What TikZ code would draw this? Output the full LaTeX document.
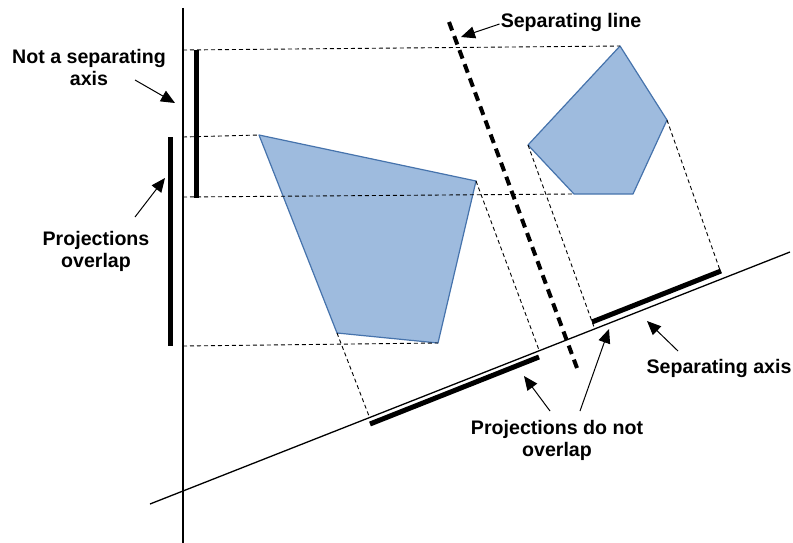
\documentclass[tikz,border=0pt]{standalone}
\usepackage{fontspec}
\setmainfont{Liberation Sans}
\usetikzlibrary{arrows.meta}
\definecolor{polyfill}{RGB}{158,187,222}
\definecolor{polyedge}{RGB}{70,115,172}
\tikzset{
  lbl/.style={font=\bfseries\fontsize{19.6}{22}\selectfont, align=center, inner sep=0pt},
  axisline/.style={line width=1.3pt},
  bar/.style={line width=5pt},
  proj/.style={line width=0.9pt, dash pattern=on 4pt off 3pt},
  poly/.style={fill=polyfill, draw=polyedge, line width=1.2pt, line join=round},
  callout/.style={line width=1pt, -{Triangle[length=14pt,width=12pt]}},
  sepline/.style={line width=4pt, dash pattern=on 9pt off 6pt}
}
\begin{document}
\begin{tikzpicture}[x=1pt,y=-1pt]
\useasboundingbox (0,0) rectangle (793,543);
% axes
\coordinate (vtop) at (183,8);
\coordinate (vbot) at (183,543);
\coordinate (aL) at (150,504);
\coordinate (aR) at (790,252);
\draw[axisline] (vtop) -- (vbot);
\draw[axisline] (aL) -- (aR);
% polygons
\coordinate (q1) at (259,135);
\coordinate (q2) at (476,181);
\coordinate (q3) at (438,343);
\coordinate (q4) at (337,333);
\coordinate (p1) at (620,46);
\coordinate (p2) at (667,120);
\coordinate (p3) at (633,194);
\coordinate (p4) at (574,194);
\coordinate (p5) at (528,145);
\draw[poly] (q1) -- (q2) -- (q3) -- (q4) -- cycle;
\draw[poly] (p1) -- (p2) -- (p3) -- (p4) -- (p5) -- cycle;
% projections onto vertical axis
\coordinate (h1) at (183,50);
\coordinate (h2) at (183,137);
\coordinate (h3) at (183,197);
\coordinate (h4) at (183,346);
\draw[proj] (h1) -- (p1);
\draw[proj] (h2) -- (q1);
\draw[proj] (h3) -- (p4);
\draw[proj] (h4) -- (q3);
% projections onto slanted axis
\coordinate (s1) at (369,416);
\coordinate (s2) at (539,350);
\coordinate (s3) at (594,327);
\coordinate (s4) at (721,273);
\draw[proj] (q4) -- (s1);
\draw[proj] (q2) -- (s2);
\draw[proj] (p5) -- (s3);
\draw[proj] (p2) -- (s4);
% bars
\coordinate (b1a) at (170,137);
\coordinate (b1b) at (170,346);
\coordinate (b2a) at (196,50);
\coordinate (b2b) at (196,198);
\draw[bar] (b1a) -- (b1b);
\draw[bar] (b2a) -- (b2b);
\coordinate (b3a) at (370,424);
\coordinate (b3b) at (539,357);
\coordinate (b4a) at (592,322);
\coordinate (b4b) at (721,271);
\draw[bar] (b3a) -- (b3b);
\draw[bar] (b4a) -- (b4b);
% separating line
\coordinate (slA) at (449,22);
\coordinate (slB) at (577,368);
\draw[sepline] (slA) -- (slB);
% labels
\node[lbl] (tNot) at (89,67) {Not a separating\\axis};
\node[lbl] (tOver) at (96,251) {Projections\\overlap};
\node[lbl] (tSepL) at (571,22) {Separating line};
\node[lbl] (tSepA) at (719,368) {Separating axis};
\node[lbl] (tDoNot) at (557,440) {Projections do not\\overlap};
% callout arrows
\coordinate (cNot) at (175,103);
\coordinate (cOver) at (165,178);
\coordinate (cSepL) at (461,37);
\coordinate (cSepA) at (647,321);
\coordinate (cDo1) at (524,376);
\coordinate (cDo2) at (609,329);
\draw[callout] (135,80) -- (cNot);
\draw[callout] (135,217) -- (cOver);
\draw[callout] (tSepL.west) ++(-1,2) -- (cSepL);
\draw[callout] (678,351) -- (cSepA);
\draw[callout] (550,411) -- (cDo1);
\draw[callout] (580,411) -- (cDo2);
\end{tikzpicture}
\end{document}
